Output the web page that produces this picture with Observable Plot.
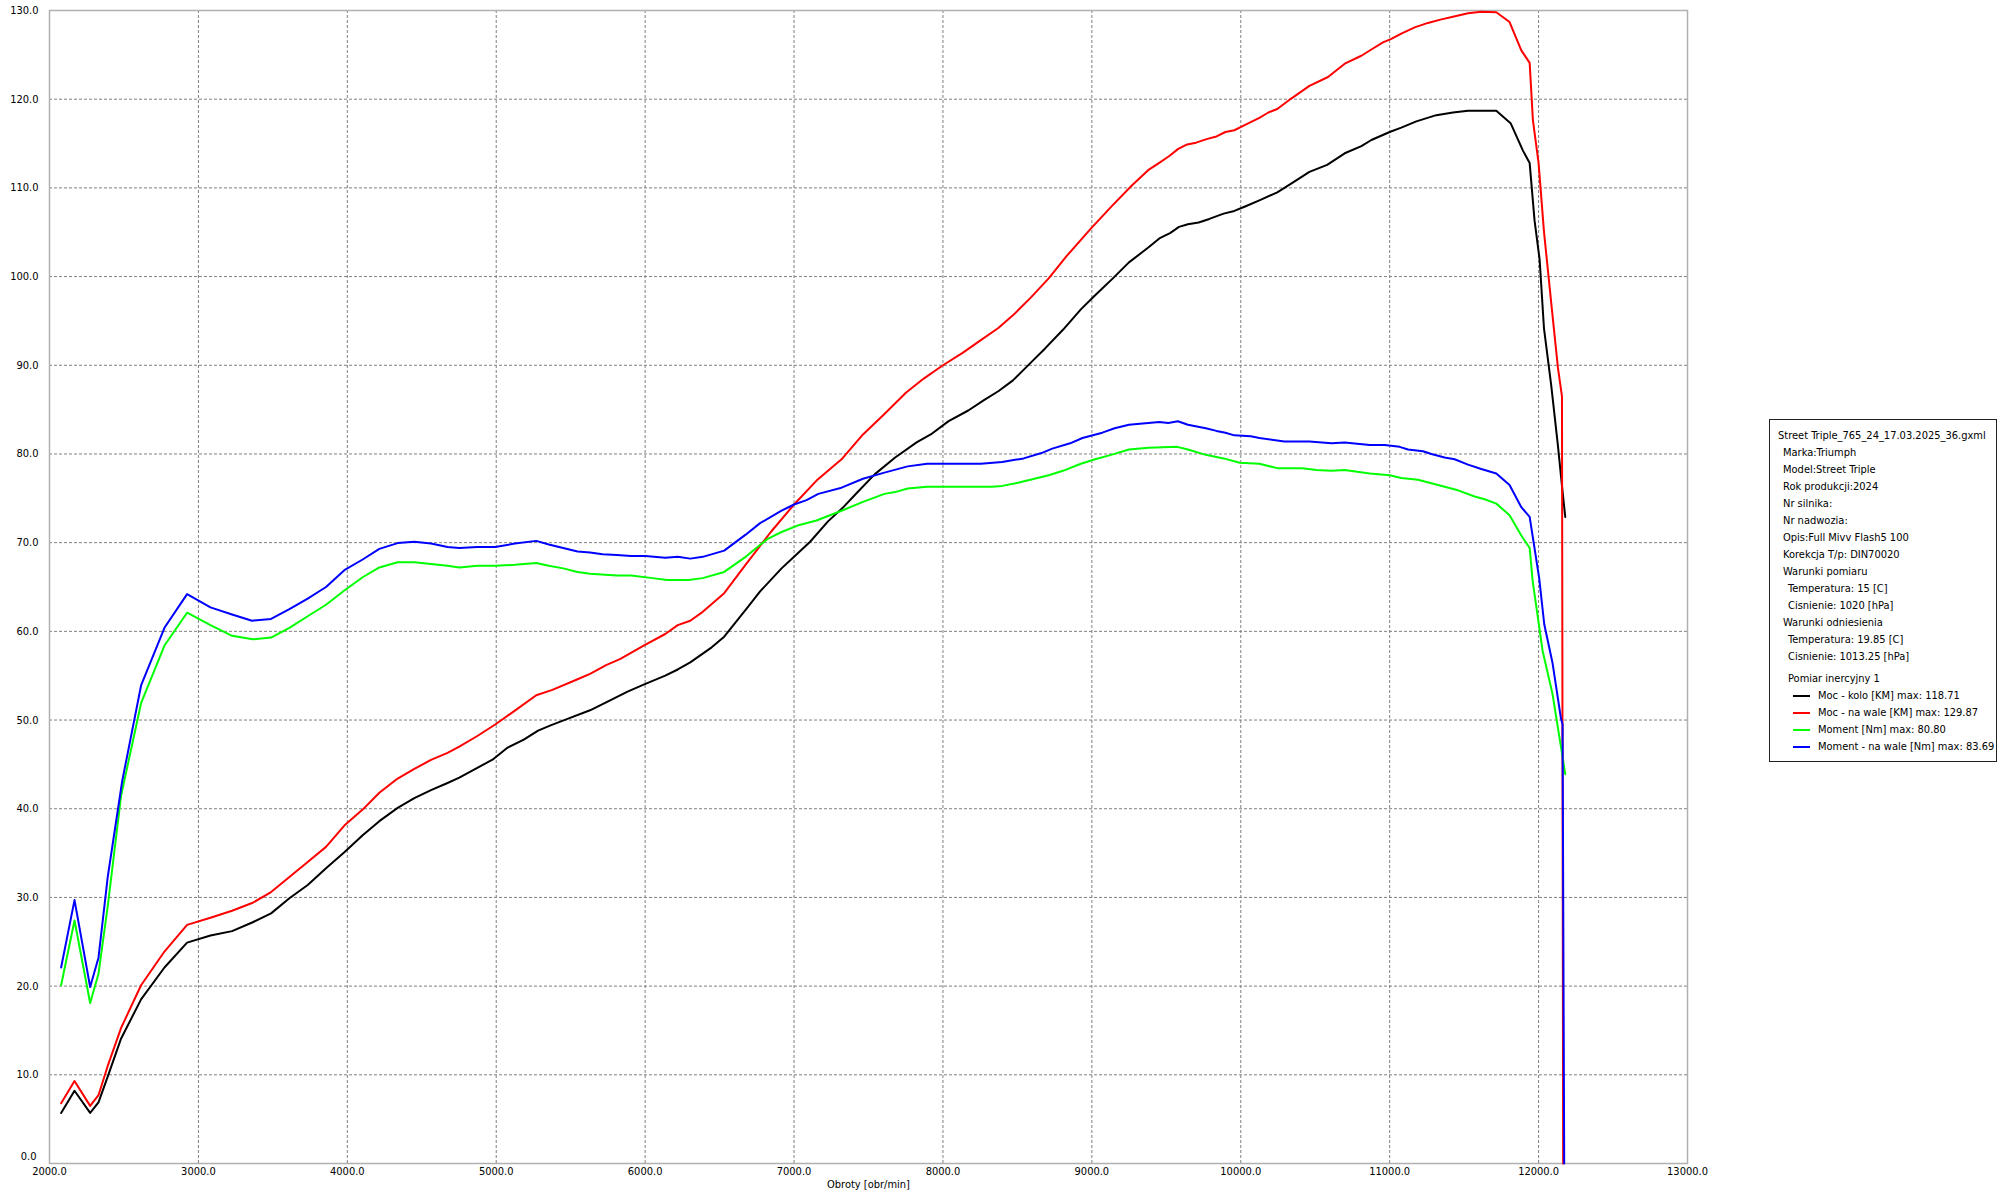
<!DOCTYPE html>
<html>
<head>
<meta charset="utf-8">
<script src="https://cdn.jsdelivr.net/npm/d3@7"></script>
<script src="https://cdn.jsdelivr.net/npm/@observablehq/plot@0.6"></script>
<style>
  html, body { margin: 0; padding: 0; background: #fff; }
  body { width: 2006px; height: 1198px; position: relative; overflow: hidden;
         font-family: Tahoma, "DejaVu Sans Condensed", "Liberation Sans", sans-serif; }
  #chart { position: absolute; left: 0; top: 0; }
  #legend { position: absolute; left: 1769px; top: 419px; width: 226px; height: 341px;
            border: 1px solid #222; background: #fff; font-size: 11px; color: #000;
            box-sizing: content-box; }
  #legend .ln { position: absolute; white-space: nowrap; line-height: 14px; height: 14px; }
  #legend .sw { position: absolute; height: 2px; width: 17px; }
</style>
</head>
<body>
<div id="chart"></div>
<div id="legend"></div>
<script>
// ---- axis ticks ----
const xTicks = [2000, 3000, 4000, 5000, 6000, 7000, 8000, 9000, 10000, 11000, 12000, 13000];
const yTicks = [0, 10, 20, 30, 40, 50, 60, 70, 80, 90, 100, 110, 120, 130];
const xLabel = "Obroty [obr/min]";

// ---- Moc - kolo [KM] (black) ----
const rpmMocKolo = [2078, 2168, 2273, 2329, 2391, 2481, 2615, 2772, 2924, 3081, 3226, 3365, 3488, 3611, 3734, 3857, 3980, 4103, 4215, 4338, 4450, 4562, 4673, 4752, 4873, 4981, 5077, 5185, 5281, 5365, 5474, 5630, 5738, 5882, 5990, 6135, 6219, 6303, 6447, 6531, 6688, 6772, 6916, 7000, 7108, 7228, 7325, 7421, 7541, 7679, 7823, 7918, 8038, 8170, 8278, 8374, 8470, 8590, 8686, 8806, 8926, 9022, 9141, 9249, 9381, 9453, 9525, 9585, 9645, 9717, 9789, 9885, 9957, 10029, 10125, 10245, 10341, 10461, 10580, 10698, 10810, 10877, 11000, 11078, 11179, 11313, 11425, 11526, 11626, 11716, 11812, 11895, 11940, 11973, 12007, 12036, 12085, 12130, 12157, 12179];
const mocKolo = [5.7, 8.2, 5.7, 6.9, 9.8, 14.1, 18.5, 22.1, 24.9, 25.7, 26.2, 27.2, 28.2, 29.9, 31.4, 33.3, 35.1, 37.0, 38.6, 40.1, 41.2, 42.1, 42.9, 43.5, 44.6, 45.6, 46.9, 47.8, 48.8, 49.4, 50.1, 51.1, 52.0, 53.2, 54.0, 55.0, 55.7, 56.5, 58.2, 59.4, 62.7, 64.5, 67.1, 68.4, 70.1, 72.4, 73.9, 75.6, 77.7, 79.6, 81.3, 82.2, 83.7, 84.9, 86.1, 87.1, 88.3, 90.3, 91.9, 94.0, 96.3, 97.9, 99.8, 101.6, 103.3, 104.3, 104.9, 105.6, 105.9, 106.1, 106.5, 107.1, 107.4, 107.9, 108.6, 109.5, 110.5, 111.8, 112.6, 113.9, 114.7, 115.4, 116.3, 116.8, 117.5, 118.2, 118.5, 118.7, 118.71, 118.7, 117.3, 114.2, 112.8, 106.3, 101.9, 94.2, 87.7, 80.9, 76.4, 72.9];

// ---- Moc - na wale [KM] (red) ----
const rpmMocWal = [2078, 2168, 2273, 2329, 2391, 2481, 2615, 2772, 2924, 3081, 3226, 3365, 3488, 3611, 3734, 3857, 3980, 4103, 4215, 4338, 4450, 4562, 4673, 4752, 4873, 4993, 5137, 5269, 5377, 5546, 5630, 5738, 5834, 5990, 6135, 6219, 6303, 6387, 6531, 6688, 6844, 7000, 7151, 7319, 7463, 7607, 7751, 7871, 8000, 8132, 8252, 8372, 8468, 8588, 8710, 8830, 8993, 9137, 9270, 9378, 9450, 9520, 9580, 9640, 9700, 9770, 9837, 9897, 9957, 10029, 10125, 10185, 10245, 10341, 10461, 10586, 10698, 10810, 10877, 10955, 11011, 11078, 11168, 11257, 11347, 11425, 11526, 11615, 11716, 11805, 11884, 11940, 11962, 12000, 12036, 12085, 12130, 12157, 12165];
const mocWal = [6.8, 9.3, 6.5, 7.7, 11.0, 15.3, 20.1, 23.9, 26.9, 27.7, 28.5, 29.4, 30.6, 32.3, 34.0, 35.7, 38.1, 39.9, 41.8, 43.4, 44.5, 45.5, 46.3, 47.0, 48.2, 49.5, 51.2, 52.8, 53.4, 54.6, 55.2, 56.2, 56.9, 58.4, 59.7, 60.7, 61.2, 62.2, 64.3, 67.8, 71.2, 74.3, 77.0, 79.4, 82.2, 84.5, 86.9, 88.5, 90.0, 91.4, 92.8, 94.2, 95.6, 97.6, 99.8, 102.3, 105.4, 108.0, 110.3, 112.0, 112.8, 113.6, 114.4, 114.9, 115.1, 115.5, 115.8, 116.3, 116.5, 117.1, 117.9, 118.5, 118.9, 120.1, 121.5, 122.5, 124.0, 124.9, 125.6, 126.4, 126.8, 127.4, 128.1, 128.6, 129.0, 129.3, 129.7, 129.87, 129.8, 128.7, 125.5, 124.1, 117.6, 112.8, 105.1, 97.0, 89.7, 86.5, 0];

// ---- Moment [Nm] (green) ----
const rpmMoment = [2078, 2168, 2273, 2329, 2391, 2481, 2615, 2772, 2924, 3081, 3226, 3365, 3488, 3611, 3734, 3857, 3980, 4103, 4215, 4338, 4450, 4562, 4673, 4752, 4873, 4993, 5125, 5269, 5353, 5450, 5546, 5630, 5810, 5906, 6050, 6147, 6291, 6387, 6531, 6675, 6820, 6916, 7036, 7151, 7319, 7463, 7607, 7679, 7763, 7894, 8326, 8398, 8518, 8614, 8710, 8806, 8926, 9022, 9129, 9249, 9381, 9573, 9645, 9765, 9885, 9993, 10125, 10245, 10413, 10508, 10609, 10698, 10866, 11000, 11078, 11190, 11280, 11369, 11459, 11570, 11638, 11716, 11805, 11884, 11940, 11960, 12027, 12094, 12150, 12179];
const moment = [20.1, 27.4, 18.1, 21.4, 29.0, 41.5, 51.9, 58.4, 62.1, 60.7, 59.5, 59.1, 59.3, 60.4, 61.7, 63.0, 64.6, 66.1, 67.2, 67.8, 67.8, 67.6, 67.4, 67.2, 67.4, 67.4, 67.5, 67.7, 67.4, 67.1, 66.7, 66.5, 66.3, 66.3, 66.0, 65.8, 65.8, 66.0, 66.7, 68.4, 70.4, 71.2, 72.0, 72.5, 73.6, 74.6, 75.5, 75.7, 76.1, 76.3, 76.3, 76.4, 76.8, 77.2, 77.6, 78.1, 78.9, 79.4, 79.9, 80.5, 80.7, 80.8, 80.5, 79.9, 79.5, 79.0, 78.9, 78.4, 78.4, 78.2, 78.1, 78.2, 77.8, 77.6, 77.3, 77.1, 76.7, 76.3, 75.9, 75.2, 74.9, 74.4, 73.1, 70.8, 69.4, 65.7, 57.8, 52.9, 47.0, 43.9];

// ---- Moment - na wale [Nm] (blue) ----
const rpmMomentWal = [2078, 2168, 2273, 2329, 2391, 2488, 2615, 2772, 2924, 3081, 3226, 3360, 3488, 3611, 3734, 3857, 3980, 4103, 4215, 4338, 4450, 4562, 4673, 4752, 4873, 4993, 5125, 5269, 5353, 5450, 5546, 5630, 5714, 5810, 5906, 6002, 6135, 6219, 6303, 6387, 6531, 6675, 6772, 6916, 7000, 7084, 7163, 7319, 7463, 7607, 7763, 7894, 8254, 8398, 8542, 8662, 8734, 8854, 8937, 9070, 9153, 9249, 9453, 9513, 9578, 9645, 9765, 9837, 9897, 9957, 10067, 10125, 10293, 10461, 10609, 10698, 10866, 10966, 11067, 11123, 11224, 11280, 11369, 11436, 11526, 11615, 11716, 11805, 11884, 11940, 12004, 12038, 12094, 12150, 12161, 12172];
const momentWal = [22.1, 29.7, 19.9, 23.2, 32.3, 43.1, 53.9, 60.4, 64.2, 62.7, 61.9, 61.2, 61.4, 62.5, 63.7, 65.0, 66.9, 68.1, 69.3, 69.95, 70.1, 69.9, 69.5, 69.4, 69.5, 69.5, 69.9, 70.2, 69.8, 69.4, 69.0, 68.9, 68.7, 68.6, 68.5, 68.5, 68.3, 68.4, 68.2, 68.4, 69.1, 70.9, 72.2, 73.6, 74.3, 74.8, 75.5, 76.2, 77.2, 77.9, 78.6, 78.9, 78.9, 79.1, 79.5, 80.1, 80.6, 81.2, 81.8, 82.4, 82.9, 83.3, 83.6, 83.5, 83.69, 83.3, 82.9, 82.6, 82.4, 82.1, 82.0, 81.8, 81.4, 81.4, 81.2, 81.3, 81.0, 81.0, 80.8, 80.5, 80.3, 80.0, 79.6, 79.4, 78.8, 78.3, 77.8, 76.5, 74.0, 72.9, 66.0, 60.8, 56.4, 50.2, 49.5, 0];

// ---- legend texts ----
const infoTitle = "Street Triple_765_24_17.03.2025_36.gxml";
const infoLines1 = ["Marka:Triumph", "Model:Street Triple", "Rok produkcji:2024", "Nr silnika:", "Nr nadwozia:", "Opis:Full Mivv Flash5 100", "Korekcja T/p: DIN70020", "Warunki pomiaru"];
const infoLines2 = ["Temperatura: 15 [C]", "Cisnienie: 1020 [hPa]"];
const infoLines3 = ["Warunki odniesienia"];
const infoLines4 = ["Temperatura: 19.85 [C]", "Cisnienie: 1013.25 [hPa]"];
const measureTitle = "Pomiar inercyjny 1";
const seriesNames = ["Moc - kolo [KM] max: 118.71", "Moc - na wale [KM] max: 129.87", "Moment [Nm] max: 80.80", "Moment - na wale [Nm] max: 83.69"];
const seriesColors = ["#000000", "#ff0000", "#00ff00", "#0000ff"];

const fmt = d => d.toFixed(1);
const FONT = 'Tahoma, "DejaVu Sans Condensed", "Liberation Sans", sans-serif';

const lineMark = (xs, ys, color) =>
  Plot.line(ys, {x: xs, y: ys, stroke: color, strokeWidth: 2, strokeLinejoin: "round"});

const chart = Plot.plot({
  width: 1700,
  height: 1198,
  marginLeft: 49,
  marginTop: 10,
  marginRight: 13,
  marginBottom: 35,
  style: {fontFamily: FONT, fontSize: "11px", color: "#000", background: "transparent", overflow: "visible"},
  x: {domain: [2000, 13000], label: null},
  y: {domain: [0, 130], label: null},
  marks: [
    Plot.gridX(xTicks.slice(1, -1), {stroke: "#808080", strokeOpacity: 1, strokeDasharray: "3,2"}),
    Plot.gridY(yTicks.slice(1, -1), {stroke: "#808080", strokeOpacity: 1, strokeDasharray: "3,2"}),
    Plot.frame({stroke: "#b0b0b0", strokeWidth: 1.5}),
    Plot.axisY(yTicks.slice(1), {tickSize: 0, tickPadding: 11, tickFormat: fmt, label: null, fill: "#000"}),
    Plot.axisY(yTicks.slice(0, 1), {tickSize: 0, tickPadding: 13, dy: -7, tickFormat: fmt, label: null, fill: "#000"}),
    Plot.axisX(xTicks, {tickSize: 0, tickPadding: 4, tickFormat: fmt, label: null, fill: "#000"}),
    Plot.text([xLabel], {frameAnchor: "bottom", dy: 21, lineAnchor: "middle", fill: "#000", fontSize: 11}),
    lineMark(rpmMocKolo, mocKolo, seriesColors[0]),
    lineMark(rpmMocWal, mocWal, seriesColors[1]),
    lineMark(rpmMoment, moment, seriesColors[2]),
    lineMark(rpmMomentWal, momentWal, seriesColors[3])
  ]
});
document.getElementById("chart").append(chart);

// ---- legend box ----
const legend = document.getElementById("legend");
const LT = 419, LL = 1769; // box origin
function addLine(text, cx, cy) {
  const d = document.createElement("div");
  d.className = "ln";
  d.textContent = text;
  d.style.left = (cx - LL - 1) + "px";
  d.style.top = (cy - LT - 1 - 7) + "px";
  legend.append(d);
}
let y = 436;
addLine(infoTitle, 1778, y);
infoLines1.forEach(t => { y += 17; addLine(t, 1783, y); });
infoLines2.forEach(t => { y += 17; addLine(t, 1788, y); });
infoLines3.forEach(t => { y += 17; addLine(t, 1783, y); });
infoLines4.forEach(t => { y += 17; addLine(t, 1788, y); });
y += 21.5;
addLine(measureTitle, 1788, y);
seriesNames.forEach((t, i) => {
  y += 17;
  const s = document.createElement("div");
  s.className = "sw";
  s.style.background = seriesColors[i];
  s.style.left = (1793 - LL - 1) + "px";
  s.style.top = (y - LT - 1 - 1) + "px";
  legend.append(s);
  addLine(t, 1818, y);
});
</script>
</body>
</html>
